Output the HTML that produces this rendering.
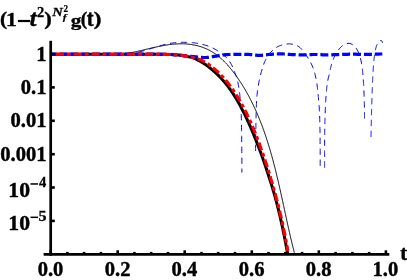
<!DOCTYPE html>
<html><head><meta charset="utf-8"><title>plot</title>
<style>
html,body{margin:0;padding:0;background:#fff;}
body{width:407px;height:280px;overflow:hidden;font-family:"Liberation Serif",serif;}
svg{display:block;}
text{will-change:opacity;stroke:#000;stroke-width:0.4px;}
text{font-family:"Liberation Serif",serif;font-weight:bold;font-size:18.5px;fill:#000;}
.ttl text{font-size:20.5px;}
</style></head><body>
<svg width="407" height="280" viewBox="0 0 407 280">
<rect width="407" height="280" fill="#fff"/>
<g fill="none" stroke-linejoin="round">
<path d="M51.5,54.2 L110.4,54.3 L111.2,54.4 L112.0,54.4 L112.7,54.4 L113.5,54.5 L114.3,54.5 L115.0,54.5 L115.8,54.5 L116.6,54.4 L117.4,54.4 L118.1,54.4 L118.9,54.3 L119.7,54.3 L120.5,54.2 L121.3,54.1 L122.1,54.0 L122.8,54.0 L123.6,53.9 L124.4,53.8 L125.2,53.7 L126.0,53.5 L126.8,53.4 L127.6,53.3 L128.4,53.2 L129.2,53.0 L130.0,52.9 L130.8,52.7 L131.6,52.6 L132.4,52.4 L133.2,52.3 L134.0,52.1 L134.8,51.9 L135.6,51.8 L136.5,51.6 L137.3,51.4 L138.1,51.2 L138.9,51.0 L139.7,50.8 L140.5,50.7 L141.3,50.5 L142.2,50.3 L143.0,50.1 L143.8,49.9 L144.6,49.7 L145.4,49.5 L146.2,49.3 L147.1,49.1 L147.9,48.9 L148.7,48.7 L149.5,48.5 L150.4,48.3 L151.2,48.1 L152.0,47.9 L152.8,47.8 L153.7,47.6 L154.5,47.4 L155.3,47.2 L156.1,47.0 L157.0,46.8 L157.8,46.7 L158.6,46.5 L159.4,46.3 L160.3,46.2 L161.1,46.0 L161.9,45.8 L162.8,45.7 L163.6,45.5 L164.4,45.4 L165.2,45.2 L166.1,45.1 L166.9,45.0 L167.7,44.9 L168.5,44.7 L169.4,44.6 L170.2,44.5 L171.0,44.4 L171.8,44.3 L172.7,44.2 L173.5,44.2 L174.3,44.1 L175.1,44.0 L176.0,44.0 L176.8,43.9 L177.6,43.9 L178.4,43.8 L179.3,43.8 L180.1,43.8 L180.9,43.8 L181.7,43.8 L182.5,43.8 L183.4,43.8 L184.2,43.8 L185.0,43.9 L185.8,43.9 L186.6,44.0 L187.4,44.1 L188.2,44.1 L189.0,44.2 L189.8,44.3 L190.6,44.4 L191.4,44.5 L192.2,44.7 L193.0,44.8 L193.8,45.0 L194.6,45.1 L195.4,45.3 L196.2,45.5 L197.0,45.6 L197.8,45.8 L198.5,46.0 L199.3,46.3 L200.1,46.5 L200.8,46.7 L201.6,47.0 L202.3,47.2 L203.1,47.5 L203.8,47.8 L204.6,48.1 L205.3,48.4 L206.0,48.7 L206.7,49.0 L207.5,49.3 L208.2,49.7 L208.9,50.0 L209.6,50.4 L210.3,50.8 L211.0,51.2 L211.6,51.5 L212.3,52.0 L213.0,52.4 L213.7,52.8 L214.3,53.2 L215.0,53.7 L215.6,54.1 L216.3,54.6 L216.9,55.1 L217.5,55.6 L218.2,56.1 L218.8,56.6 L219.4,57.1 L220.0,57.6 L220.6,58.1 L221.2,58.6 L221.8,59.2 L222.4,59.7 L223.0,60.3 L223.6,60.8 L224.1,61.4 L224.7,62.0 L225.3,62.6 L225.8,63.1 L226.4,63.7 L226.9,64.3 L227.5,64.9 L228.0,65.5 L228.6,66.2 L229.1,66.8 L229.6,67.4 L230.2,68.0 L230.7,68.7 L231.2,69.3 L231.7,69.9 L232.2,70.6 L232.7,71.2 L233.2,71.9 L233.7,72.5 L234.2,73.2 L234.7,73.9 L235.2,74.5 L235.7,75.2 L236.2,75.9 L236.7,76.5 L237.1,77.2 L237.6,77.9 L238.1,78.6 L238.5,79.2 L239.0,79.9 L239.4,80.6 L239.9,81.3 L240.3,82.0 L240.8,82.6 L241.2,83.3 L241.7,84.0 L242.1,84.7 L242.5,85.4 L243.0,86.1 L243.4,86.8 L243.8,87.5 L244.3,88.2 L244.7,88.9 L245.1,89.6 L245.5,90.3 L245.9,91.0 L246.3,91.7 L246.7,92.4 L247.1,93.2 L247.5,93.9 L247.9,94.6 L248.3,95.3 L248.7,96.0 L249.1,96.7 L249.5,97.5 L249.8,98.2 L250.2,98.9 L250.6,99.6 L251.0,100.4 L251.3,101.1 L251.7,101.8 L252.1,102.6 L252.4,103.3 L252.8,104.0 L253.1,104.8 L253.5,105.5 L253.8,106.2 L254.2,107.0 L254.5,107.7 L254.9,108.5 L255.2,109.2 L255.5,109.9 L255.9,110.7 L256.2,111.4 L256.5,112.2 L256.9,112.9 L257.2,113.7 L257.5,114.4 L257.8,115.2 L258.2,115.9 L258.5,116.7 L258.8,117.5 L259.1,118.2 L259.4,119.0 L259.7,119.7 L260.0,120.5 L260.3,121.3 L260.6,122.0 L260.9,122.8 L261.2,123.5 L261.5,124.3 L261.8,125.1 L262.1,125.8 L262.4,126.6 L262.7,127.4 L262.9,128.2 L263.2,128.9 L263.5,129.7 L263.8,130.5 L264.0,131.2 L264.3,132.0 L264.6,132.8 L264.9,133.6 L265.1,134.4 L265.4,135.1 L265.7,135.9 L265.9,136.7 L266.2,137.5 L266.4,138.3 L266.7,139.0 L266.9,139.8 L267.2,140.6 L267.4,141.4 L267.7,142.2 L267.9,143.0 L268.2,143.8 L268.4,144.5 L268.7,145.3 L268.9,146.1 L269.2,146.9 L269.4,147.7 L269.6,148.5 L269.9,149.3 L270.1,150.1 L270.3,150.9 L270.6,151.7 L270.8,152.5 L271.0,153.3 L271.2,154.1 L271.5,154.8 L271.7,155.6 L271.9,156.4 L272.1,157.2 L272.3,158.0 L272.6,158.8 L272.8,159.6 L273.0,160.4 L273.2,161.2 L273.4,162.0 L273.6,162.8 L273.8,163.6 L274.0,164.4 L274.2,165.2 L274.5,166.0 L274.7,166.8 L274.9,167.6 L275.1,168.4 L275.3,169.3 L275.5,170.1 L275.7,170.9 L275.9,171.7 L276.1,172.5 L276.3,173.3 L276.5,174.1 L276.7,174.9 L276.8,175.7 L277.0,176.5 L277.2,177.3 L277.4,178.1 L277.6,178.9 L277.8,179.7 L278.0,180.5 L278.2,181.3 L278.4,182.1 L278.6,182.9 L278.7,183.7 L278.9,184.5 L279.1,185.4 L279.3,186.2 L279.5,187.0 L279.7,187.8 L279.8,188.6 L280.0,189.4 L280.2,190.2 L280.4,191.0 L280.6,191.8 L280.7,192.6 L280.9,193.4 L281.1,194.2 L281.3,195.0 L281.5,195.8 L281.6,196.6 L281.8,197.4 L282.0,198.2 L282.2,199.0 L282.3,199.9 L282.5,200.7 L282.7,201.5 L282.9,202.3 L283.0,203.1 L283.2,203.9 L283.4,204.7 L283.6,205.5 L283.7,206.3 L283.9,207.1 L284.1,207.9 L284.3,208.7 L284.4,209.5 L284.6,210.3 L284.8,211.1 L284.9,211.9 L285.1,212.7 L285.3,213.5 L285.5,214.3 L285.6,215.1 L285.8,215.9 L286.0,216.7 L286.2,217.5 L286.3,218.3 L286.5,219.1 L286.7,219.9 L286.8,220.7 L287.0,221.4 L287.2,222.2 L287.4,223.0 L287.5,223.8 L287.7,224.6 L287.9,225.4 L288.1,226.2 L288.2,227.0 L288.4,227.8 L288.6,228.6 L288.8,229.4 L288.9,230.1 L289.1,230.9 L289.3,231.7 L289.5,232.5 L289.7,233.3 L289.8,234.1 L290.0,234.9 L290.2,235.6 L290.4,236.4 L290.6,237.2 L290.7,238.0 L290.9,238.8 L291.1,239.5 L291.3,240.3 L291.5,241.1 L291.7,241.9 L291.8,242.6 L292.0,243.4 L292.2,244.2 L292.4,245.0 L292.6,245.7 L292.8,246.5 L293.0,247.3 L293.2,248.0 L293.4,248.8 L293.6,249.6 L293.8,250.3 L293.9,251.1 L294.1,251.9 L294.3,252.6" stroke="#000" stroke-width="1"/>
<g stroke="#0000ff" stroke-width="1" stroke-dasharray="6.3 4.6">
<path d="M51.5,54.2 L53.0,54.2 L54.5,54.2 L56.0,54.2 L57.5,54.2 L59.0,54.2 L60.5,54.2 L62.0,54.2 L63.5,54.2 L65.0,54.2 L66.5,54.2 L68.0,54.2 L69.5,54.2 L71.0,54.2 L72.5,54.2 L74.0,54.2 L75.5,54.2 L77.0,54.2 L78.5,54.2 L80.0,54.2 L81.5,54.2 L83.0,54.2 L84.5,54.2 L86.0,54.2 L87.5,54.2 L89.0,54.2 L90.5,54.2 L91.9,54.2 L93.4,54.2 L94.9,54.2 L96.4,54.2 L97.9,54.2 L99.4,54.2 L100.9,54.2 L102.4,54.2 L103.9,54.2 L105.4,54.2 L106.9,54.2 L108.4,54.2 L109.9,54.2 L111.4,54.2 L112.9,54.2 L114.4,54.2 L115.9,54.2 L117.4,54.2 L118.9,54.2 L120.4,54.2 L121.9,54.2 L123.4,54.1 L124.9,54.1 L126.4,54.0 L127.9,53.9 L129.4,53.8 L130.9,53.7 L132.3,53.5 L133.8,53.3 L135.3,53.0 L136.8,52.6 L138.2,52.2 L139.7,51.9 L141.1,51.5 L142.6,51.1 L144.0,50.7 L145.4,50.2 L146.9,49.8 L148.3,49.3 L149.7,48.9 L151.2,48.5 L152.6,48.0 L154.0,47.6 L155.4,47.1 L156.9,46.7 L158.3,46.3 L159.8,45.9 L161.2,45.5 L162.7,45.1 L164.1,44.7 L165.6,44.3 L167.0,44.0 L168.5,43.7 L170.0,43.4 L171.4,43.2 L172.9,43.0 L174.4,42.8 L175.9,42.6 L177.4,42.5 L178.9,42.4 L180.4,42.3 L181.9,42.3 L183.4,42.3 L184.9,42.3 L186.4,42.4 L187.9,42.4 L189.4,42.5 L190.9,42.6 L192.4,42.7 L193.8,42.8 L195.3,43.0 L196.8,43.2 L198.3,43.5 L199.8,43.8 L201.2,44.1 L202.7,44.5 L204.1,44.8 L205.6,45.3 L207.0,45.7 L208.4,46.3 L209.8,46.8 L211.2,47.4 L212.6,48.0 L213.9,48.6 L215.2,49.3 L216.5,50.1 L217.8,50.9 L219.1,51.7 L220.3,52.6 L221.5,53.5 L222.7,54.4 L223.9,55.3 L225.0,56.3 L226.2,57.3 L227.2,58.3 L228.2,59.5 L229.1,60.7 L229.9,61.9 L230.7,63.2 L231.4,64.5 L232.1,65.9 L232.7,67.2 L233.3,68.6 L233.9,70.0 L234.4,71.4 L234.9,72.8 L235.4,74.2 L236.0,75.6 L236.5,77.0 L236.9,78.5 L237.3,79.9 L237.6,81.4 L238.0,82.8 L238.2,84.3 L238.5,85.8 L238.8,87.2 L239.0,88.7 L239.2,90.2 L239.5,91.7 L239.6,93.2 L239.8,94.7 L239.9,96.2 L240.1,97.6 L240.2,99.1 L240.3,100.6 L240.5,102.1 L240.6,103.6 L240.7,105.1 L240.8,106.6 L240.9,108.1 L241.0,109.6 L241.1,111.1 L241.1,112.6 L241.2,114.1 L241.3,115.6 L241.3,117.1 L241.4,118.6 L241.4,120.1 L241.4,121.6 L241.5,123.1 L241.5,124.6 L241.5,126.1 L241.5,127.6 L241.6,129.1 L241.6,130.6 L241.6,132.1 L241.6,133.6 L241.7,135.1 L241.7,136.6 L241.7,138.0 L241.7,139.5 L241.7,141.0 L241.7,142.5 L241.8,144.0 L241.8,145.5 L241.8,147.0 L241.8,148.5 L241.8,150.0 L241.8,151.5 L241.8,153.0 L241.8,154.5 L241.8,156.0 L241.8,157.5 L241.9,159.0 L241.9,160.5 L241.9,162.0 L241.9,163.5 L241.9,165.0 L241.9,166.5 L241.9,168.0 L241.9,169.5 L241.9,171.0 L241.9,172.5"/>
<path d="M255.6,151.0 L255.6,149.7 L255.6,148.4 L255.6,147.1 L255.6,145.8 L255.6,144.5 L255.6,143.3 L255.7,142.0 L255.7,140.7 L255.7,139.4 L255.7,138.1 L255.7,136.8 L255.7,135.5 L255.8,134.2 L255.8,132.9 L255.8,131.6 L255.8,130.4 L255.8,129.1 L255.9,127.8 L255.9,126.5 L255.9,125.2 L255.9,123.9 L256.0,122.6 L256.0,121.3 L256.0,120.0 L256.0,118.7 L256.0,117.5 L256.1,116.2 L256.1,114.9 L256.1,113.6 L256.2,112.3 L256.2,111.0 L256.2,109.7 L256.3,108.4 L256.3,107.1 L256.4,105.8 L256.4,104.5 L256.5,103.3 L256.5,102.0 L256.6,100.7 L256.6,99.4 L256.7,98.1 L256.8,96.8 L257.0,95.5 L257.1,94.3 L257.3,93.0 L257.4,91.7 L257.6,90.4 L257.8,89.1 L258.0,87.9 L258.2,86.6 L258.4,85.3 L258.6,84.0 L258.8,82.8 L259.0,81.5 L259.3,80.2 L259.6,79.0 L259.8,77.7 L260.1,76.5 L260.4,75.2 L260.8,74.0 L261.1,72.7 L261.5,71.5 L261.8,70.2 L262.2,69.0 L262.6,67.7 L263.0,66.5 L263.4,65.3 L263.8,64.1 L264.2,62.9 L264.7,61.7 L265.3,60.5 L265.9,59.3 L266.5,58.2 L267.1,57.1 L267.8,56.0 L268.6,55.0 L269.4,53.9 L270.2,52.9 L271.1,52.0 L272.0,51.0 L272.9,50.2 L273.9,49.3 L274.9,48.5 L276.0,47.7 L277.1,47.0 L278.2,46.4 L279.4,45.9 L280.6,45.5 L281.8,45.1 L283.1,44.8 L284.4,44.5 L285.7,44.2 L287.0,44.0 L288.2,43.9 L289.5,43.9 L290.8,44.0 L292.1,44.2 L293.4,44.5 L294.7,44.9 L296.0,45.3 L297.1,45.7 L298.2,46.2 L299.2,46.9 L300.2,47.7 L301.1,48.7 L302.0,49.7 L302.9,50.8 L303.7,51.8 L304.5,52.8 L305.3,53.8 L306.0,54.9 L306.7,55.9 L307.4,57.0 L308.1,58.1 L308.8,59.2 L309.4,60.3 L310.1,61.5 L310.7,62.6 L311.3,63.8 L311.8,64.9 L312.3,66.1 L312.8,67.3 L313.3,68.5 L313.7,69.7 L314.1,71.0 L314.5,72.2 L314.8,73.4 L315.1,74.7 L315.4,75.9 L315.7,77.2 L316.0,78.5 L316.2,79.7 L316.4,81.0 L316.7,82.3 L316.9,83.5 L317.1,84.8 L317.2,86.1 L317.4,87.4 L317.5,88.7 L317.7,89.9 L317.8,91.2 L317.9,92.5 L318.1,93.8 L318.2,95.1 L318.3,96.4 L318.4,97.7 L318.5,98.9 L318.6,100.2 L318.7,101.5 L318.8,102.8 L318.9,104.1 L319.1,105.4 L319.2,106.7 L319.3,107.9 L319.3,109.2 L319.4,110.5 L319.5,111.8 L319.5,113.1 L319.6,114.4 L319.6,115.7 L319.7,117.0 L319.7,118.3 L319.7,119.5 L319.8,120.8 L319.8,122.1 L319.8,123.4 L319.9,124.7 L319.9,126.0 L319.9,127.3 L319.9,128.6 L320.0,129.9 L320.0,131.2 L320.0,132.5 L320.0,133.7 L320.1,135.0 L320.1,136.3 L320.1,137.6 L320.1,138.9 L320.1,140.2 L320.1,141.5 L320.1,142.8 L320.1,144.1 L320.1,145.4 L320.1,146.6 L320.1,147.9 L320.2,149.2 L320.2,150.5 L320.2,151.8 L320.2,153.1 L320.2,154.4 L320.2,155.7 L320.2,157.0 L320.2,158.3 L320.2,159.5 L320.2,160.8 L320.2,162.1 L320.2,163.4 L320.2,164.7 L320.2,166.0"/>
<path d="M324.6,167.7 L324.6,166.6 L324.6,165.6 L324.6,164.5 L324.6,163.4 L324.6,162.3 L324.6,161.3 L324.6,160.2 L324.6,159.1 L324.6,158.1 L324.6,157.0 L324.6,155.9 L324.6,154.8 L324.6,153.8 L324.6,152.7 L324.6,151.6 L324.6,150.6 L324.6,149.5 L324.6,148.4 L324.6,147.3 L324.6,146.3 L324.6,145.2 L324.6,144.1 L324.6,143.1 L324.6,142.0 L324.6,140.9 L324.6,139.8 L324.7,138.8 L324.7,137.7 L324.7,136.6 L324.7,135.6 L324.7,134.5 L324.7,133.4 L324.7,132.3 L324.7,131.3 L324.7,130.2 L324.8,129.1 L324.8,128.1 L324.8,127.0 L324.8,125.9 L324.8,124.8 L324.9,123.8 L324.9,122.7 L324.9,121.6 L324.9,120.6 L325.0,119.5 L325.0,118.4 L325.0,117.3 L325.1,116.3 L325.1,115.2 L325.1,114.1 L325.2,113.1 L325.2,112.0 L325.3,110.9 L325.3,109.9 L325.3,108.8 L325.4,107.7 L325.4,106.6 L325.5,105.6 L325.5,104.5 L325.6,103.4 L325.6,102.4 L325.7,101.3 L325.8,100.2 L325.8,99.2 L325.9,98.1 L326.0,97.0 L326.1,95.9 L326.2,94.9 L326.2,93.8 L326.3,92.7 L326.4,91.7 L326.5,90.6 L326.6,89.5 L326.7,88.5 L326.8,87.4 L326.9,86.3 L327.1,85.3 L327.2,84.2 L327.3,83.2 L327.5,82.1 L327.7,81.0 L327.9,80.0 L328.1,78.9 L328.3,77.9 L328.6,76.9 L328.9,75.8 L329.1,74.8 L329.4,73.7 L329.6,72.7 L329.9,71.6 L330.1,70.6 L330.3,69.5 L330.5,68.5 L330.8,67.4 L331.0,66.4 L331.3,65.4 L331.5,64.3 L331.8,63.3 L332.2,62.3 L332.5,61.3 L332.9,60.3 L333.3,59.3 L333.7,58.3 L334.1,57.3 L334.6,56.3 L335.1,55.4 L335.6,54.4 L336.1,53.5 L336.7,52.5 L337.2,51.6 L337.9,50.8 L338.5,49.9 L339.1,49.1 L339.9,48.2 L340.6,47.4 L341.4,46.6 L342.2,45.9 L343.0,45.3 L343.9,44.8 L344.9,44.3 L345.9,43.9 L347.0,43.6 L348.0,43.4 L349.1,43.3 L350.1,43.5 L351.1,43.9 L352.1,44.4 L353.1,45.1 L353.9,45.8 L354.6,46.4 L355.4,47.2 L356.0,48.0 L356.6,48.9 L357.2,49.9 L357.8,50.9 L358.2,51.9 L358.6,52.8 L359.0,53.8 L359.4,54.8 L359.7,55.8 L360.0,56.8 L360.3,57.9 L360.6,58.9 L360.9,60.0 L361.1,61.0 L361.3,62.1 L361.5,63.2 L361.7,64.2 L361.8,65.3 L362.0,66.3 L362.1,67.4 L362.3,68.4 L362.4,69.5 L362.5,70.6 L362.6,71.6 L362.7,72.7 L362.9,73.8 L362.9,74.9 L363.0,75.9 L363.1,77.0 L363.2,78.1 L363.3,79.1 L363.4,80.2 L363.4,81.3 L363.5,82.3 L363.6,83.4 L363.6,84.5 L363.7,85.5 L363.8,86.6 L363.8,87.7 L363.9,88.8 L363.9,89.8 L363.9,90.9 L364.0,92.0 L364.0,93.0 L364.0,94.1 L364.1,95.2 L364.1,96.3 L364.1,97.3 L364.2,98.4 L364.2,99.5 L364.2,100.5 L364.3,101.6 L364.3,102.7 L364.3,103.7 L364.3,104.8 L364.4,105.9 L364.4,107.0 L364.4,108.0 L364.4,109.1 L364.4,110.2 L364.4,111.2 L364.5,112.3 L364.5,113.4 L364.5,114.5 L364.5,115.5 L364.5,116.6 L364.5,117.7 L364.5,118.8"/>
<path d="M371.0,137.0 L371.0,136.5 L371.0,136.0 L371.0,135.5 L371.0,135.0 L371.0,134.4 L371.1,133.9 L371.1,133.4 L371.1,132.9 L371.1,132.4 L371.1,131.9 L371.1,131.4 L371.1,130.9 L371.1,130.4 L371.1,129.8 L371.1,129.3 L371.2,128.8 L371.2,128.3 L371.2,127.8 L371.2,127.3 L371.2,126.8 L371.2,126.3 L371.2,125.8 L371.2,125.3 L371.2,124.7 L371.3,124.2 L371.3,123.7 L371.3,123.2 L371.3,122.7 L371.3,122.2 L371.3,121.7 L371.3,121.2 L371.3,120.7 L371.4,120.1 L371.4,119.6 L371.4,119.1 L371.4,118.6 L371.4,118.1 L371.4,117.6 L371.4,117.1 L371.4,116.6 L371.5,116.1 L371.5,115.5 L371.5,115.0 L371.5,114.5 L371.5,114.0 L371.5,113.5 L371.5,113.0 L371.5,112.5 L371.6,112.0 L371.6,111.5 L371.6,110.9 L371.6,110.4 L371.6,109.9 L371.6,109.4 L371.6,108.9 L371.7,108.4 L371.7,107.9 L371.7,107.4 L371.7,106.9 L371.7,106.4 L371.7,105.8 L371.7,105.3 L371.8,104.8 L371.8,104.3 L371.8,103.8 L371.8,103.3 L371.8,102.8 L371.8,102.3 L371.8,101.8 L371.9,101.2 L371.9,100.7 L371.9,100.2 L371.9,99.7 L371.9,99.2 L371.9,98.7 L371.9,98.2 L372.0,97.7 L372.0,97.2 L372.0,96.6 L372.0,96.1 L372.0,95.6 L372.0,95.1 L372.1,94.6 L372.1,94.1 L372.1,93.6 L372.1,93.1 L372.1,92.6 L372.1,92.1 L372.2,91.5 L372.2,91.0 L372.2,90.5 L372.2,90.0 L372.2,89.5 L372.2,89.0 L372.3,88.5 L372.3,88.0 L372.3,87.5 L372.3,86.9 L372.3,86.4 L372.4,85.9 L372.4,85.4 L372.4,84.9 L372.4,84.4 L372.4,83.9 L372.5,83.4 L372.5,82.9 L372.5,82.4 L372.5,81.8 L372.6,81.3 L372.6,80.8 L372.6,80.3 L372.6,79.8 L372.7,79.3 L372.7,78.8 L372.7,78.3 L372.7,77.8 L372.8,77.2 L372.8,76.7 L372.8,76.2 L372.8,75.7 L372.9,75.2 L372.9,74.7 L372.9,74.2 L372.9,73.7 L373.0,73.2 L373.0,72.7 L373.0,72.1 L373.1,71.6 L373.1,71.1 L373.1,70.6 L373.2,70.1 L373.2,69.6 L373.2,69.1 L373.3,68.6 L373.3,68.1 L373.3,67.6 L373.4,67.1 L373.4,66.5 L373.4,66.0 L373.5,65.5 L373.5,65.0 L373.6,64.5 L373.6,64.0 L373.6,63.5 L373.7,63.0 L373.7,62.5 L373.8,61.9 L373.8,61.4 L373.9,60.9 L373.9,60.4 L374.0,59.9 L374.0,59.4 L374.1,58.9 L374.1,58.4 L374.2,57.9 L374.2,57.4 L374.3,56.9 L374.4,56.4 L374.4,55.8 L374.5,55.3 L374.6,54.8 L374.6,54.3 L374.7,53.8 L374.8,53.3 L374.9,52.8 L374.9,52.3 L375.0,51.8 L375.1,51.3 L375.2,50.8 L375.3,50.3 L375.5,49.8 L375.6,49.2 L375.7,48.7 L375.8,48.2 L376.0,47.7 L376.1,47.2 L376.2,46.8 L376.4,46.3 L376.6,45.8 L376.7,45.3 L376.9,44.9 L377.1,44.4 L377.3,44.0 L377.5,43.5 L377.8,43.0 L378.1,42.5 L378.4,42.1 L378.7,41.7 L379.1,41.3 L379.4,41.0 L379.9,40.8 L380.4,40.6 L380.9,40.5 L381.2,40.5 L381.6,40.7 L381.9,41.1 L382.1,41.6 L382.3,42.2 L382.5,43.0"/>
</g>
<path d="M51.5,54.2 L52.4,54.2 L53.3,54.2 L54.3,54.2 L55.2,54.2 L56.1,54.2 L57.0,54.2 L57.9,54.2 L58.9,54.2 L59.8,54.2 L60.7,54.2 L61.6,54.2 L62.5,54.2 L63.5,54.2 L64.4,54.2 L65.3,54.2 L66.2,54.2 L67.1,54.2 L68.1,54.2 L69.0,54.2 L69.9,54.2 L70.8,54.2 L71.7,54.2 L72.7,54.2 L73.6,54.2 L74.5,54.2 L75.4,54.2 L76.3,54.2 L77.3,54.2 L78.2,54.2 L79.1,54.2 L80.0,54.2 L81.0,54.2 L81.9,54.2 L82.8,54.2 L83.7,54.2 L84.6,54.2 L85.6,54.2 L86.5,54.2 L87.4,54.2 L88.3,54.2 L89.2,54.2 L90.2,54.2 L91.1,54.2 L92.0,54.2 L92.9,54.2 L93.8,54.2 L94.8,54.2 L95.7,54.2 L96.6,54.2 L97.5,54.2 L98.4,54.2 L99.4,54.2 L100.3,54.2 L101.2,54.2 L102.1,54.2 L103.0,54.2 L104.0,54.2 L104.9,54.2 L105.8,54.2 L106.7,54.2 L107.6,54.2 L108.6,54.2 L109.5,54.2 L110.4,54.2 L111.3,54.2 L112.2,54.2 L113.2,54.2 L114.1,54.2 L115.0,54.2 L115.9,54.2 L116.8,54.2 L117.8,54.2 L118.7,54.2 L119.6,54.2 L120.5,54.2 L121.4,54.2 L122.4,54.2 L123.3,54.2 L124.2,54.2 L125.1,54.2 L126.0,54.2 L127.0,54.2 L127.9,54.2 L128.8,54.2 L129.7,54.2 L130.6,54.2 L131.6,54.2 L132.5,54.2 L133.4,54.2 L134.3,54.2 L135.2,54.2 L136.2,54.2 L137.1,54.2 L138.0,54.2 L138.9,54.2 L139.9,54.2 L140.8,54.2 L141.7,54.2 L142.6,54.2 L143.5,54.2 L144.5,54.2 L145.4,54.2 L146.3,54.2 L147.2,54.2 L148.1,54.2 L149.1,54.2 L150.0,54.2 L150.9,54.2 L151.8,54.2 L152.7,54.2 L153.7,54.2 L154.6,54.2 L155.5,54.2 L156.4,54.2 L157.3,54.2 L158.3,54.2 L159.2,54.2 L160.1,54.2 L161.0,54.3 L161.9,54.3 L162.9,54.3 L163.8,54.3 L164.7,54.3 L165.6,54.3 L166.5,54.3 L167.5,54.4 L168.4,54.4 L169.3,54.4 L170.2,54.5 L171.1,54.5 L172.1,54.6 L173.0,54.6 L173.9,54.7 L174.8,54.7 L175.7,54.8 L176.6,54.9 L177.6,54.9 L178.5,55.0 L179.4,55.1 L180.3,55.3 L181.2,55.4 L182.1,55.5 L183.0,55.7 L183.9,55.8 L184.9,56.0 L185.8,56.1 L186.7,56.3 L187.6,56.5 L188.5,56.7 L189.4,56.9 L190.3,57.1 L191.2,57.3 L192.1,57.5 L193.0,57.7 L193.8,57.9 L194.7,58.3 L195.5,58.7 L196.3,59.2 L197.1,59.7 L197.9,60.2 L198.7,60.6 L199.5,61.0 L200.3,61.4 L201.1,61.8 L201.9,62.3 L202.7,62.8 L203.5,63.3 L204.3,63.8 L205.0,64.3 L205.8,64.8 L206.6,65.3 L207.3,65.9 L208.0,66.4 L208.8,67.0 L209.5,67.5 L210.2,68.1 L210.9,68.7 L211.7,69.3 L212.4,69.9 L213.1,70.5 L213.7,71.1 L214.4,71.7 L215.1,72.3 L215.8,72.9 L216.5,73.6 L217.1,74.2 L217.8,74.8 L218.4,75.5 L219.1,76.1 L219.7,76.8 L220.4,77.5 L221.0,78.1 L221.6,78.8 L222.2,79.5 L222.9,80.2 L223.5,80.9 L224.1,81.6 L224.7,82.3 L225.3,83.0 L225.8,83.7 L226.4,84.4 L227.0,85.1 L227.6,85.8 L228.1,86.6 L228.7,87.3 L229.2,88.1 L229.7,88.8 L230.3,89.5 L230.8,90.3 L231.3,91.1 L231.8,91.8 L232.4,92.6 L232.9,93.4 L233.4,94.1 L233.9,94.9 L234.4,95.7 L234.8,96.5 L235.3,97.2 L235.8,98.0 L236.3,98.8 L236.8,99.6 L237.2,100.4 L237.7,101.2 L238.1,102.0 L238.6,102.8 L239.1,103.6 L239.5,104.4 L239.9,105.2 L240.4,106.0 L240.8,106.8 L241.3,107.6 L241.7,108.4 L242.1,109.3 L242.5,110.1 L242.9,110.9 L243.4,111.7 L243.8,112.5 L244.2,113.4 L244.6,114.2 L245.0,115.0 L245.4,115.9 L245.8,116.7 L246.2,117.5 L246.6,118.3 L247.0,119.2 L247.4,120.0 L247.7,120.9 L248.1,121.7 L248.5,122.5 L248.9,123.4 L249.2,124.2 L249.6,125.1 L250.0,125.9 L250.4,126.7 L250.7,127.6 L251.1,128.4 L251.4,129.3 L251.8,130.1 L252.2,131.0 L252.5,131.8 L252.9,132.7 L253.2,133.5 L253.6,134.4 L253.9,135.2 L254.3,136.1 L254.6,136.9 L255.0,137.8 L255.3,138.6 L255.7,139.5 L256.0,140.3 L256.3,141.2 L256.7,142.1 L257.0,142.9 L257.3,143.8 L257.7,144.6 L258.0,145.5 L258.3,146.3 L258.7,147.2 L259.0,148.1 L259.3,148.9 L259.7,149.8 L260.0,150.6 L260.3,151.5 L260.6,152.4 L261.0,153.2 L261.3,154.1 L261.6,154.9 L261.9,155.8 L262.2,156.7 L262.5,157.5 L262.8,158.4 L263.1,159.3 L263.4,160.2 L263.7,161.0 L264.0,161.9 L264.3,162.8 L264.6,163.6 L264.9,164.5 L265.2,165.4 L265.5,166.3 L265.8,167.1 L266.1,168.0 L266.4,168.9 L266.7,169.7 L266.9,170.6 L267.2,171.5 L267.5,172.4 L267.8,173.3 L268.1,174.1 L268.4,175.0 L268.7,175.9 L268.9,176.8 L269.2,177.6 L269.5,178.5 L269.8,179.4 L270.1,180.3 L270.3,181.1 L270.6,182.0 L270.9,182.9 L271.2,183.8 L271.5,184.6 L271.7,185.5 L272.0,186.4 L272.3,187.3 L272.5,188.2 L272.8,189.0 L273.1,189.9 L273.3,190.8 L273.6,191.7 L273.9,192.6 L274.1,193.5 L274.4,194.3 L274.6,195.2 L274.9,196.1 L275.1,197.0 L275.4,197.9 L275.6,198.8 L275.8,199.7 L276.1,200.5 L276.3,201.4 L276.6,202.3 L276.8,203.2 L277.0,204.1 L277.3,205.0 L277.5,205.9 L277.7,206.8 L277.9,207.7 L278.2,208.6 L278.4,209.5 L278.6,210.4 L278.8,211.2 L279.0,212.1 L279.2,213.0 L279.5,213.9 L279.7,214.8 L279.9,215.7 L280.1,216.6 L280.3,217.5 L280.5,218.4 L280.7,219.3 L280.9,220.2 L281.1,221.1 L281.3,222.0 L281.5,222.9 L281.7,223.8 L281.9,224.7 L282.1,225.6 L282.3,226.5 L282.5,227.4 L282.7,228.3 L282.9,229.2 L283.0,230.1 L283.2,231.0 L283.4,231.9 L283.6,232.8 L283.8,233.7 L284.0,234.6 L284.2,235.5 L284.3,236.4 L284.5,237.3 L284.7,238.2 L284.9,239.1 L285.1,240.0 L285.2,240.9 L285.4,241.8 L285.6,242.7 L285.8,243.6 L285.9,244.5 L286.1,245.4 L286.3,246.4 L286.4,247.3 L286.6,248.2 L286.8,249.1 L287.0,250.0 L287.1,250.9 L287.3,251.8 L287.4,252.7 L287.6,253.6 L287.8,254.5" stroke="#000" stroke-width="3"/>
<path d="M51.5,54.2 L52.6,54.2 L53.7,54.2 L54.8,54.2 L55.9,54.2 L57.0,54.2 L58.1,54.2 L59.2,54.2 L60.4,54.2 L61.5,54.2 L62.6,54.2 L63.7,54.2 L64.8,54.2 L65.9,54.2 L67.0,54.2 L68.1,54.2 L69.2,54.2 L70.3,54.2 L71.4,54.2 L72.5,54.2 L73.6,54.2 L74.7,54.2 L75.8,54.2 L76.9,54.2 L78.1,54.2 L79.2,54.2 L80.3,54.2 L81.4,54.2 L82.5,54.2 L83.6,54.2 L84.7,54.2 L85.8,54.2 L86.9,54.2 L88.0,54.2 L89.1,54.2 L90.2,54.2 L91.3,54.2 L92.4,54.2 L93.5,54.2 L94.6,54.2 L95.8,54.2 L96.9,54.2 L98.0,54.2 L99.1,54.2 L100.2,54.2 L101.3,54.2 L102.4,54.2 L103.5,54.2 L104.6,54.2 L105.7,54.2 L106.8,54.2 L107.9,54.2 L109.0,54.2 L110.1,54.2 L111.2,54.2 L112.3,54.2 L113.5,54.2 L114.6,54.2 L115.7,54.2 L116.8,54.2 L117.9,54.2 L119.0,54.2 L120.1,54.2 L121.2,54.2 L122.3,54.2 L123.4,54.2 L124.5,54.2 L125.6,54.2 L126.7,54.2 L127.8,54.2 L128.9,54.2 L130.1,54.2 L131.2,54.2 L132.3,54.2 L133.4,54.2 L134.5,54.2 L135.6,54.2 L136.7,54.2 L137.8,54.2 L138.9,54.2 L140.0,54.2 L141.1,54.2 L142.2,54.2 L143.3,54.2 L144.4,54.2 L145.5,54.2 L146.6,54.2 L147.8,54.2 L148.9,54.2 L150.0,54.2 L151.1,54.2 L152.2,54.2 L153.3,54.2 L154.4,54.2 L155.5,54.2 L156.6,54.2 L157.7,54.2 L158.8,54.3 L159.9,54.3 L161.0,54.3 L162.1,54.3 L163.2,54.3 L164.3,54.4 L165.5,54.4 L166.6,54.4 L167.7,54.4 L168.8,54.5 L169.9,54.5 L171.0,54.5 L172.1,54.6 L173.2,54.7 L174.3,54.8 L175.4,54.9 L176.5,55.0 L177.6,55.1 L178.7,55.2 L179.8,55.3 L180.9,55.4 L182.0,55.5 L183.2,55.6 L184.3,55.7 L185.4,55.8 L186.5,56.0 L187.6,56.1 L188.7,56.2 L189.8,56.3 L190.9,56.4 L192.0,56.5 L193.1,56.6 L194.2,56.7 L195.3,56.8 L196.4,56.9 L197.5,57.0 L198.6,57.1 L199.8,57.2 L200.9,57.3 L202.0,57.4 L203.1,57.5 L204.2,57.5 L205.3,57.5 L206.4,57.5 L207.5,57.4 L208.6,57.3 L209.7,57.1 L210.8,57.0 L211.9,56.8 L213.0,56.6 L214.1,56.4 L215.2,56.3 L216.3,56.1 L217.5,55.9 L218.6,55.6 L219.7,55.4 L220.8,55.2 L221.9,55.0 L223.0,54.9 L224.1,54.8 L225.2,54.7 L226.3,54.7 L227.4,54.6 L228.5,54.5 L229.6,54.5 L230.7,54.4 L231.8,54.4 L232.9,54.4 L234.0,54.3 L235.2,54.3 L236.3,54.3 L237.4,54.3 L238.5,54.3 L239.6,54.3 L240.7,54.3 L241.8,54.3 L242.9,54.3 L244.0,54.3 L245.1,54.4 L246.2,54.4 L247.3,54.4 L248.4,54.4 L249.5,54.5 L250.6,54.6 L251.8,54.7 L252.9,54.8 L254.0,55.0 L255.1,55.1 L256.2,55.2 L257.3,55.3 L258.4,55.4 L259.5,55.4 L260.6,55.4 L261.7,55.3 L262.8,55.2 L263.9,55.1 L265.0,54.9 L266.1,54.8 L267.2,54.7 L268.3,54.5 L269.5,54.4 L270.6,54.4 L271.7,54.3 L272.8,54.2 L273.9,54.2 L275.0,54.1 L276.1,54.0 L277.2,54.0 L278.3,53.9 L279.4,53.9 L280.5,53.9 L281.6,53.9 L282.7,53.9 L283.8,54.0 L284.9,54.1 L286.0,54.2 L287.2,54.3 L288.3,54.4 L289.4,54.4 L290.5,54.5 L291.6,54.6 L292.7,54.6 L293.8,54.7 L294.9,54.7 L296.0,54.8 L297.1,54.8 L298.2,54.8 L299.3,54.9 L300.4,54.9 L301.5,54.9 L302.6,54.9 L303.7,54.9 L304.9,54.9 L306.0,54.8 L307.1,54.8 L308.2,54.7 L309.3,54.7 L310.4,54.6 L311.5,54.6 L312.6,54.5 L313.7,54.5 L314.8,54.5 L315.9,54.5 L317.0,54.5 L318.1,54.6 L319.2,54.6 L320.3,54.7 L321.5,54.7 L322.6,54.8 L323.7,54.8 L324.8,54.9 L325.9,54.9 L327.0,54.9 L328.1,54.9 L329.2,54.9 L330.3,54.9 L331.4,54.8 L332.5,54.8 L333.6,54.7 L334.7,54.7 L335.8,54.6 L336.9,54.6 L338.0,54.6 L339.2,54.5 L340.3,54.5 L341.4,54.5 L342.5,54.4 L343.6,54.4 L344.7,54.4 L345.8,54.3 L346.9,54.3 L348.0,54.3 L349.1,54.2 L350.2,54.2 L351.3,54.2 L352.4,54.2 L353.5,54.2 L354.6,54.2 L355.7,54.2 L356.9,54.3 L358.0,54.3 L359.1,54.3 L360.2,54.3 L361.3,54.4 L362.4,54.4 L363.5,54.4 L364.6,54.4 L365.7,54.4 L366.8,54.4 L367.9,54.4 L369.0,54.4 L370.1,54.3 L371.2,54.3 L372.3,54.3 L373.4,54.2 L374.6,54.2 L375.7,54.2 L376.8,54.1 L377.9,54.1 L379.0,54.1 L380.1,54.0 L381.2,54.0 L382.3,53.9" stroke="#0000ff" stroke-width="3.2" stroke-dasharray="8 2.9" stroke-dashoffset="3"/>
<path d="M51.5,54.2 L150.0,54.2 L160.0,54.3 L167.6,54.5 L171.5,54.5 L174.0,54.6 L175.7,54.7 L177.0,54.7 L178.0,54.8 L178.8,54.9 L179.5,54.9 L180.1,55.0 L180.6,55.1 L181.1,55.2 L181.5,55.2 L181.9,55.3 L182.3,55.4 L182.7,55.4 L183.1,55.5 L183.4,55.6 L183.8,55.6 L184.1,55.7 L184.5,55.8 L184.8,55.9 L185.1,55.9 L185.4,56.0 L185.8,56.1 L186.1,56.1 L186.4,56.2 L186.7,56.3 L187.1,56.3 L187.4,56.4 L187.7,56.5 L188.0,56.6 L188.3,56.6 L188.7,56.7 L189.0,56.8 L189.3,56.8 L189.6,56.9 L189.9,57.0 L190.3,57.0 L190.6,57.1 L190.9,57.2 L191.2,57.3 L191.5,57.3 L191.8,57.4 L192.1,57.5 L192.5,57.5 L192.8,57.6 L193.1,57.7 L193.4,57.8 L193.6,57.8 L193.9,57.9 L194.2,58.0 L194.5,58.0 L194.8,58.1 L195.1,58.2 L195.3,58.2 L195.6,58.3 L195.9,58.4 L196.1,58.5 L196.4,58.5 L196.6,58.6 L196.9,58.7 L197.1,58.7 L197.3,58.8 L197.6,58.9 L197.8,58.9 L198.0,59.0 L198.3,59.1 L198.5,59.2 L198.7,59.2 L198.9,59.3 L199.1,59.4 L199.3,59.4 L199.5,59.5 L199.7,59.6 L199.9,59.6 L200.1,59.7 L200.3,59.8 L200.5,59.9 L200.6,59.9 L200.8,60.0 L201.3,60.2 L203.4,61.2 L205.1,62.1 L206.7,63.1 L208.1,64.0 L209.5,65.0 L210.8,66.0 L212.0,66.9 L213.2,67.9 L214.4,68.8 L215.5,69.8 L216.6,70.8 L217.6,71.7 L218.6,72.7 L219.6,73.6 L220.6,74.6 L221.5,75.6 L222.4,76.5 L223.3,77.5 L224.1,78.4 L225.0,79.4 L225.8,80.4 L226.6,81.3 L227.4,82.3 L228.1,83.2 L228.9,84.2 L229.6,85.2 L230.3,86.1 L231.0,87.1 L231.7,88.0 L232.4,89.0 L233.1,90.0 L233.7,90.9 L234.4,91.9 L235.0,92.8 L235.6,93.8 L236.2,94.8 L236.8,95.7 L237.4,96.7 L238.0,97.6 L238.6,98.6 L239.1,99.6 L239.7,100.5 L240.3,101.5 L240.8,102.4 L241.3,103.4 L241.9,104.4 L242.4,105.3 L242.9,106.3 L243.4,107.2 L243.9,108.2 L244.4,109.1 L244.9,110.1 L245.4,111.1 L245.9,112.0 L246.4,113.0 L246.8,113.9 L247.3,114.9 L247.7,115.9 L248.2,116.8 L248.7,117.8 L249.1,118.7 L249.5,119.7 L250.0,120.7 L250.4,121.6 L250.8,122.6 L251.3,123.5 L251.7,124.5 L252.1,125.5 L252.5,126.4 L252.9,127.4 L253.3,128.3 L253.7,129.3 L254.1,130.3 L254.5,131.2 L254.9,132.2 L255.3,133.1 L255.7,134.1 L256.0,135.1 L256.4,136.0 L256.8,137.0 L257.2,137.9 L257.5,138.9 L257.9,139.9 L258.2,140.8 L258.6,141.8 L259.0,142.7 L259.3,143.7 L259.7,144.7 L260.0,145.6 L260.4,146.6 L260.7,147.5 L261.0,148.5 L261.4,149.5 L261.7,150.4 L262.1,151.4 L262.4,152.3 L262.7,153.3 L263.1,154.3 L263.4,155.2 L263.7,156.2 L264.0,157.1 L264.3,158.1 L264.7,159.1 L265.0,160.0 L265.3,161.0 L265.6,161.9 L265.9,162.9 L266.2,163.9 L266.6,164.8 L266.9,165.8 L267.2,166.7 L267.5,167.7 L267.8,168.7 L268.1,169.6 L268.4,170.6 L268.7,171.5 L269.0,172.5 L269.3,173.5 L269.6,174.4 L269.9,175.4 L270.2,176.3 L270.4,177.3 L270.7,178.3 L271.0,179.2 L271.3,180.2 L271.6,181.1 L271.9,182.1 L272.2,183.1 L272.4,184.0 L272.7,185.0 L273.0,185.9 L273.3,186.9 L273.5,187.9 L273.8,188.8 L274.1,189.8 L274.4,190.7 L274.6,191.7 L274.9,192.7 L275.2,193.6 L275.4,194.6 L275.7,195.5 L275.9,196.5 L276.2,197.5 L276.5,198.4 L276.7,199.4 L277.0,200.3 L277.2,201.3 L277.5,202.3 L277.7,203.2 L278.0,204.2 L278.2,205.1 L278.4,206.1 L278.7,207.0 L278.9,208.0 L279.2,209.0 L279.4,209.9 L279.6,210.9 L279.9,211.8 L280.1,212.8 L280.3,213.8 L280.5,214.7 L280.8,215.7 L281.0,216.6 L281.2,217.6 L281.4,218.6 L281.7,219.5 L281.9,220.5 L282.1,221.4 L282.3,222.4 L282.5,223.4 L282.7,224.3 L282.9,225.3 L283.1,226.2 L283.3,227.2 L283.5,228.2 L283.7,229.1 L283.9,230.1 L284.1,231.0 L284.3,232.0 L284.5,233.0 L284.7,233.9 L284.9,234.9 L285.1,235.8 L285.3,236.8 L285.5,237.8 L285.7,238.7 L285.8,239.7 L286.0,240.6 L286.2,241.6 L286.4,242.6 L286.6,243.5 L286.7,244.5 L286.9,245.4 L287.1,246.4 L287.2,247.4 L287.4,248.3 L287.6,249.3 L287.7,250.2 L287.9,251.2" stroke="#ff0000" stroke-width="3.15" stroke-dasharray="8.1 2.9 3.9 2.9" stroke-dashoffset="-4.4"/>
</g>
<g stroke="#000" stroke-width="2.7" fill="none">
<line x1="50.7" y1="40.8" x2="50.7" y2="255.7"/>
<line x1="43.6" y1="254.45" x2="389.3" y2="254.45"/>
</g>
<g stroke="#000" stroke-width="2.6" fill="none"><line x1="50.6" y1="253.4" x2="50.6" y2="250.3"/><line x1="67.4" y1="253.4" x2="67.4" y2="251.9"/><line x1="84.1" y1="253.4" x2="84.1" y2="251.9"/><line x1="100.9" y1="253.4" x2="100.9" y2="251.9"/><line x1="117.7" y1="253.4" x2="117.7" y2="250.3"/><line x1="134.4" y1="253.4" x2="134.4" y2="251.9"/><line x1="151.2" y1="253.4" x2="151.2" y2="251.9"/><line x1="168.0" y1="253.4" x2="168.0" y2="251.9"/><line x1="184.7" y1="253.4" x2="184.7" y2="250.3"/><line x1="201.5" y1="253.4" x2="201.5" y2="251.9"/><line x1="218.2" y1="253.4" x2="218.2" y2="251.9"/><line x1="235.0" y1="253.4" x2="235.0" y2="251.9"/><line x1="251.8" y1="253.4" x2="251.8" y2="250.3"/><line x1="268.5" y1="253.4" x2="268.5" y2="251.9"/><line x1="285.3" y1="253.4" x2="285.3" y2="251.9"/><line x1="302.1" y1="253.4" x2="302.1" y2="251.9"/><line x1="318.8" y1="253.4" x2="318.8" y2="250.3"/><line x1="335.6" y1="253.4" x2="335.6" y2="251.9"/><line x1="352.4" y1="253.4" x2="352.4" y2="251.9"/><line x1="369.1" y1="253.4" x2="369.1" y2="251.9"/><line x1="385.9" y1="253.4" x2="385.9" y2="250.3"/><line x1="51.7" y1="54.1" x2="54.8" y2="54.1"/><line x1="51.7" y1="87.4" x2="54.8" y2="87.4"/><line x1="51.7" y1="120.8" x2="54.8" y2="120.8"/><line x1="51.7" y1="154.2" x2="54.8" y2="154.2"/><line x1="51.7" y1="187.5" x2="54.8" y2="187.5"/><line x1="51.7" y1="220.9" x2="54.8" y2="220.9"/></g>
<text transform="translate(37.63,276.00) scale(1.035,1.000)" style="font-size:19.9px">0.0</text><text transform="translate(104.74,276.00) scale(1.035,1.000)" style="font-size:19.9px">0.2</text><text transform="translate(171.55,276.00) scale(1.035,1.000)" style="font-size:19.9px">0.4</text><text transform="translate(238.72,276.00) scale(1.035,1.000)" style="font-size:19.9px">0.6</text><text transform="translate(305.82,276.00) scale(1.035,1.000)" style="font-size:19.9px">0.8</text><text transform="translate(372.49,276.00) scale(1.035,1.000)" style="font-size:19.9px">1.0</text>
<text transform="translate(36.27,60.57) scale(1.035,1.000)" style="font-size:19.9px">1</text><text transform="translate(20.82,93.93) scale(1.035,1.000)" style="font-size:19.9px">0.1</text><text transform="translate(10.52,127.29) scale(1.035,1.000)" style="font-size:19.9px">0.01</text><text transform="translate(0.22,160.65) scale(1.035,1.000)" style="font-size:19.9px">0.001</text><text transform="translate(8.34,196.81) scale(1.090,1.000)" style="font-size:19.9px">10</text><rect x="30.5" y="183.21" width="7.6" height="1.5" fill="#000"/><text transform="translate(38.90,187.41) scale(0.727,0.710)" style="font-size:20px">4</text><text transform="translate(8.34,230.17) scale(1.090,1.000)" style="font-size:19.9px">10</text><rect x="30.5" y="216.57" width="7.6" height="1.5" fill="#000"/><text transform="translate(38.46,220.63) scale(0.803,0.703)" style="font-size:20px">5</text>
<text transform="translate(400.27,259.50) scale(1.035,1.000)" style="font-size:19.9px">t</text>
<text transform="translate(0.06,24.75) scale(1.071,0.904)" style="font-size:20px">(</text><text transform="translate(6.06,26.20) scale(1.086,0.977)" style="font-size:20px">1</text><rect x="17.9" y="19.9" width="12.3" height="2.2" fill="#000"/><text transform="translate(29.87,26.27) scale(1.211,1.196)" style="font-size:20px" font-style="italic">t</text><text transform="translate(36.89,17.00) scale(0.723,0.680)" style="font-size:20px">2</text><text transform="translate(44.27,24.73) scale(1.129,0.910)" style="font-size:20px">)</text><text transform="translate(52.14,16.00) scale(0.736,0.672)" style="font-size:20px" font-style="italic">N</text><text transform="translate(63.42,12.20) scale(0.458,0.476)" style="font-size:20px">2</text><text transform="translate(62.80,19.81) scale(0.577,0.398)" style="font-size:20px" font-style="italic">f</text><text transform="translate(70.64,25.61) scale(1.056,0.858)" style="font-size:20px">g</text><text transform="translate(80.64,24.88) scale(0.973,0.921)" style="font-size:20px">(</text><text transform="translate(86.87,26.28) scale(1.024,1.117)" style="font-size:20px">t</text><text transform="translate(93.86,24.88) scale(1.149,0.921)" style="font-size:20px">)</text>
</svg>
</body></html>
